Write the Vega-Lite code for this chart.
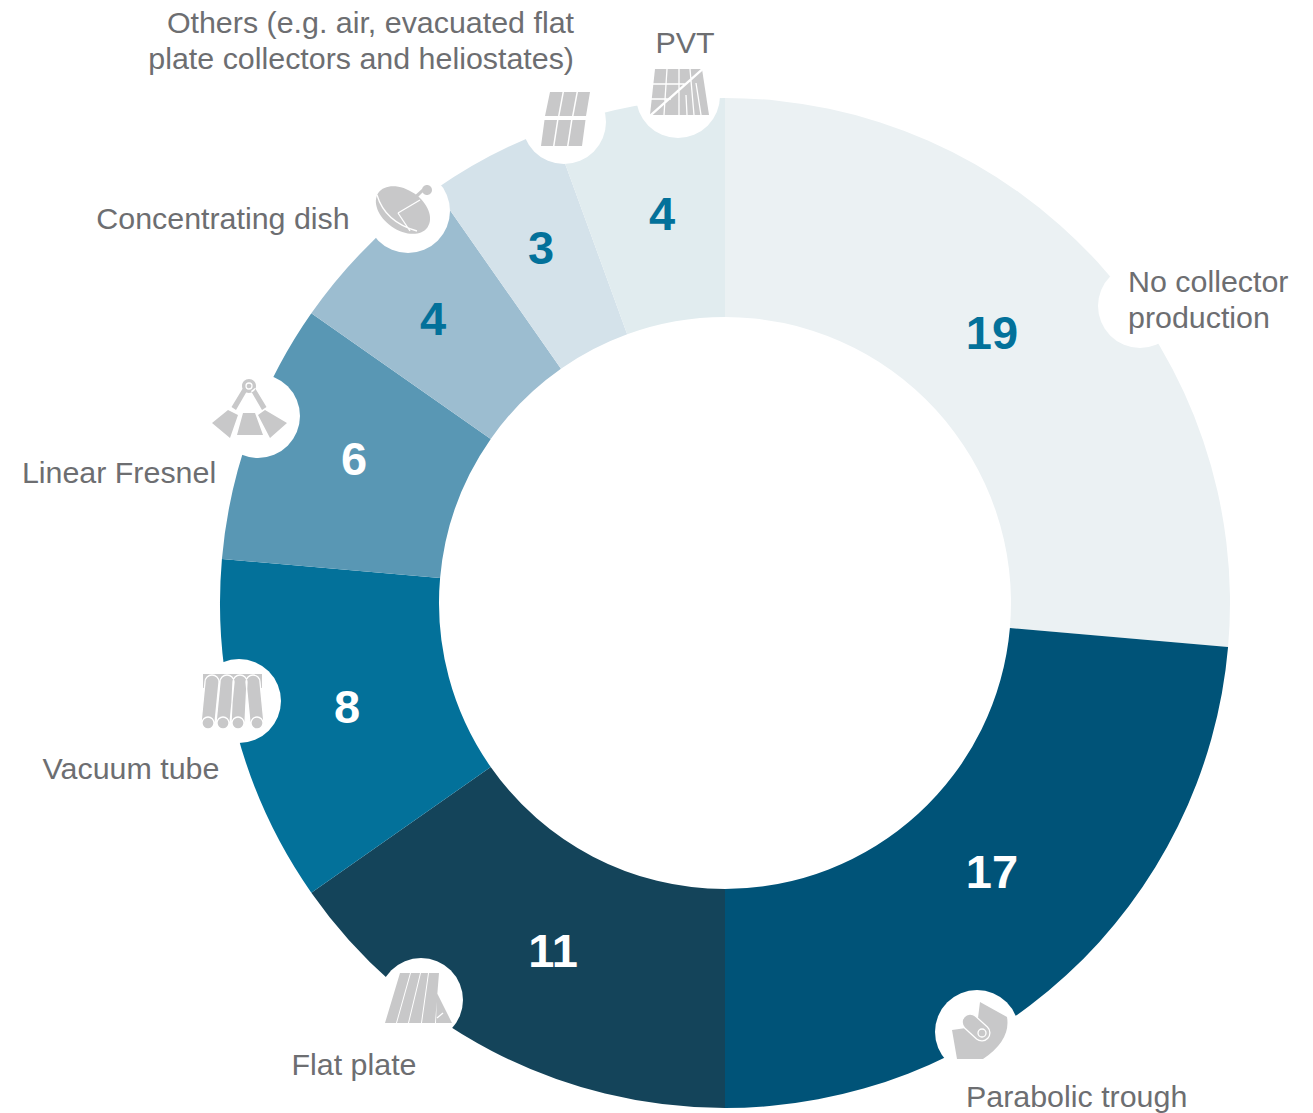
{"$schema":"https://vega.github.io/schema/vega-lite/v6.json","width":1176,"height":1020,"autosize":"none","padding":{"left":137,"top":93,"right":0,"bottom":0},"background":"white","config":{"view":{"stroke":null}},"data":{"values":[{"category":"No collector production","label":"No collector\nproduction","value":19,"order":1},{"category":"Parabolic trough","label":"Parabolic trough","value":17,"order":2},{"category":"Flat plate","label":"Flat plate","value":11,"order":3},{"category":"Vacuum tube","label":"Vacuum tube","value":8,"order":4},{"category":"Linear Fresnel","label":"Linear Fresnel","value":6,"order":5},{"category":"Concentrating dish","label":"Concentrating dish","value":4,"order":6},{"category":"Others","label":"Others (e.g. air, evacuated flat\nplate collectors and heliostates)","value":3,"order":7},{"category":"PVT","label":"PVT","value":4,"order":8}]},"resolve":{"scale":{"x":"independent","y":"independent","shape":"independent","color":"independent","theta":"independent"},"axis":{"x":"independent","y":"independent"},"legend":{"shape":"independent","color":"independent"}},"layer":[{"mark":{"type":"arc","outerRadius":505,"innerRadius":286,"stroke":null},"encoding":{"theta":{"field":"value","type":"quantitative","stack":true,"scale":{"domain":[0,72]}},"order":{"field":"order","type":"quantitative"},"color":{"field":"category","type":"nominal","legend":null,"scale":{"domain":["No collector production","Parabolic trough","Flat plate","Vacuum tube","Linear Fresnel","Concentrating dish","Others","PVT"],"range":["#ebf1f3","#005378","#14445a","#03719a","#5997b4","#9cbdd0","#d4e2ea","#e1ecef"]}}}},{"mark":{"type":"point","filled":true,"fill":"white","opacity":1,"size":7056,"shape":"circle","stroke":null},"encoding":{"x":{"field":"order","type":"quantitative","axis":null,"scale":{"domain":[1,2,3,4,5,6,7,8],"range":[1003,840,284,102,121,271,427,541],"zero":false,"nice":false}},"y":{"field":"order","type":"quantitative","axis":null,"scale":{"domain":[1,2,3,4,5,6,7,8],"range":[213,939,907,608,323,118,29,3],"zero":false,"nice":false}}}},{"transform":[{"filter":"datum.order > 1"}],"mark":{"type":"point","filled":true,"fill":"#c8c8c9","opacity":1,"size":4,"stroke":null},"encoding":{"x":{"field":"order","type":"quantitative","axis":null,"scale":{"domain":[1,2,3,4,5,6,7,8],"range":[1003,844,281,96,113,268,428,542],"zero":false,"nice":false}},"y":{"field":"order","type":"quantitative","axis":null,"scale":{"domain":[1,2,3,4,5,6,7,8],"range":[213,937,906,609,317,114,27,-1],"zero":false,"nice":false}},"shape":{"field":"category","type":"nominal","legend":null,"scale":{"domain":["Parabolic trough","Flat plate","Vacuum tube","Linear Fresnel","Concentrating dish","Others","PVT"],"range":["M-1 -28L26 -13Q30 10 2 29L-24 29L-29 0L-8 -3L-3 -12ZM-5.6 -13.9L6.4 -2.9A8 8 0 0 1 -4.4 8.9L-16.4 -2.1A8 8 0 0 1 -5.6 -13.9Z","M-18 -26L-8 -26L-22 24L-33 24ZM-7 -26L2 -26L-10 24L-21 24ZM3 -26L10 -26L3 24L-9 24ZM11 -26L21 -26L17 24L4 24ZM19 -6L34 24L18 24Z","M-30 -28L29 -28L29 -14L-30 -14ZM-28 -20A7 7 0 0 1 -14 -20L-18 21A7 7 0 0 1 -32 21ZM-13 -20A7 7 0 0 1 1 -20L-3 21A7 7 0 0 1 -17 21ZM0 -20A7 7 0 0 1 14 -20L12 21A7 7 0 0 1 -2 21ZM13 -20A7 7 0 0 1 27 -20L31 21A7 7 0 0 1 17 21Z","M-7 3L5 3L13 25L-13 25ZM-22 0L-12 5L-20 28L-38 13ZM15 0L37 13L20 28L8 5ZM-8 -24A7 7 0 1 1 6 -24A7 7 0 1 1 -8 -24ZM-7 -22L-3 -19L-14 0L-18.5 -3ZM5 -22L1 -19L12 0L16.5 -3Z","M-26.6 -14.2A30 20 35 1 1 22.6 20.2A30 20 35 1 1 -26.6 -14.2ZM7 -9L18 -19L20 -17L10 -7ZM17 -17A5 5 0 1 1 27 -17A5 5 0 1 1 17 -17Z","M-15 -28L-2.5 -28L-7 -4L-20 -4ZM-1 -28L11.5 -28L7 -4L-5.5 -4ZM13 -28L25 -28L21 -4L8.5 -4ZM-20.5 0L-8 0L-12 26L-24 26ZM-6.5 0L6 0L2 26L-10.5 26ZM7.5 0L20.5 0L17 26L3.5 26Z","M-24 -23L23 -23L30 23L-29 23Z"]}}}},{"transform":[{"filter":"datum.order > 1"}],"mark":{"type":"point","filled":false,"stroke":"white","strokeWidth":1.3,"fill":null,"opacity":1,"size":4},"encoding":{"x":{"field":"order","type":"quantitative","axis":null,"scale":{"domain":[1,2,3,4,5,6,7,8],"range":[1003,844,281,96,113,268,428,542],"zero":false,"nice":false}},"y":{"field":"order","type":"quantitative","axis":null,"scale":{"domain":[1,2,3,4,5,6,7,8],"range":[213,937,906,609,317,114,27,-1],"zero":false,"nice":false}},"shape":{"field":"category","type":"nominal","legend":null,"scale":{"domain":["Parabolic trough","Flat plate","Vacuum tube","Linear Fresnel","Concentrating dish","Others","PVT"],"range":["M-5.6 -13.9L6.4 -2.9A8 8 0 0 1 -4.4 8.9L-16.4 -2.1A8 8 0 0 1 -5.6 -13.9ZM-3 3A4 4 0 1 1 5 3A4 4 0 1 1 -3 3Z","M25 14L19 19","M-28 -20A7 7 0 0 1 -14 -20L-18 21A7 7 0 0 1 -32 21ZM-13 -20A7 7 0 0 1 1 -20L-3 21A7 7 0 0 1 -17 21ZM0 -20A7 7 0 0 1 14 -20L12 21A7 7 0 0 1 -2 21ZM13 -20A7 7 0 0 1 27 -20L31 21A7 7 0 0 1 17 21ZM-31 21A6 6 0 1 0 -19 21A6 6 0 1 0 -31 21ZM-16 21A6 6 0 1 0 -4 21A6 6 0 1 0 -16 21ZM-1 21A6 6 0 1 0 11 21A6 6 0 1 0 -1 21ZM18 21A6 6 0 1 0 30 21A6 6 0 1 0 18 21Z","M-4 -24A3 3 0 1 1 2 -24A3 3 0 1 1 -4 -24Z","M-28 -12Q-20 15 12 24M-7 6L15 -7M-7 6L5 24","M0 0","M-30 24L24 -24M-29.3 24.8L24.7 -23.2M-12 -23L-15 23M0 -23L0 23M11 -23L15 23M7 3L8 23M17 -9L22 23M-26 -8L6 -8M-28 7L-8 7"]}}}},{"mark":{"type":"text","font":"Liberation Sans","fontSize":47,"fontWeight":"bold","baseline":"middle","align":"center"},"encoding":{"text":{"field":"value","type":"quantitative"},"color":{"condition":{"test":"datum.order >= 2 && datum.order <= 5","value":"#ffffff"},"value":"#03719a"},"x":{"field":"order","type":"quantitative","axis":null,"scale":{"domain":[1,2,3,4,5,6,7,8],"range":[855,855,416,210,217,296,404,525],"zero":false,"nice":false}},"y":{"field":"order","type":"quantitative","axis":null,"scale":{"domain":[1,2,3,4,5,6,7,8],"range":[242,781,860,616,368,228,157,123],"zero":false,"nice":false}}}},{"transform":[{"filter":"datum.order <= 2"}],"mark":{"type":"text","font":"Liberation Sans","fontSize":30.4,"color":"#6d6e71","baseline":"middle","align":"left","lineBreak":"\n","lineHeight":36},"encoding":{"text":{"field":"label","type":"nominal"},"x":{"field":"order","type":"quantitative","axis":null,"scale":{"domain":[1,2,3,4,5,6,7,8],"range":[991,829,217,-6,-18,86,437,548],"zero":false,"nice":false}},"y":{"field":"order","type":"quantitative","axis":null,"scale":{"domain":[1,2,3,4,5,6,7,8],"range":[190,1005,973,677,381,127,-69,-49],"zero":false,"nice":false}}}},{"transform":[{"filter":"datum.order >= 3 && datum.order != 7"}],"mark":{"type":"text","font":"Liberation Sans","fontSize":30.4,"color":"#6d6e71","baseline":"middle","align":"center"},"encoding":{"text":{"field":"label","type":"nominal"},"x":{"field":"order","type":"quantitative","axis":null,"scale":{"domain":[1,2,3,4,5,6,7,8],"range":[991,829,217,-6,-18,86,437,548],"zero":false,"nice":false}},"y":{"field":"order","type":"quantitative","axis":null,"scale":{"domain":[1,2,3,4,5,6,7,8],"range":[190,1005,973,677,381,127,-69,-49],"zero":false,"nice":false}}}},{"transform":[{"filter":"datum.order == 7"}],"mark":{"type":"text","font":"Liberation Sans","fontSize":30.4,"color":"#6d6e71","baseline":"middle","align":"right","lineBreak":"\n","lineHeight":36},"encoding":{"text":{"field":"label","type":"nominal"},"x":{"field":"order","type":"quantitative","axis":null,"scale":{"domain":[1,2,3,4,5,6,7,8],"range":[991,829,217,-6,-18,86,437,548],"zero":false,"nice":false}},"y":{"field":"order","type":"quantitative","axis":null,"scale":{"domain":[1,2,3,4,5,6,7,8],"range":[190,1005,973,677,381,127,-69,-49],"zero":false,"nice":false}}}}]}
